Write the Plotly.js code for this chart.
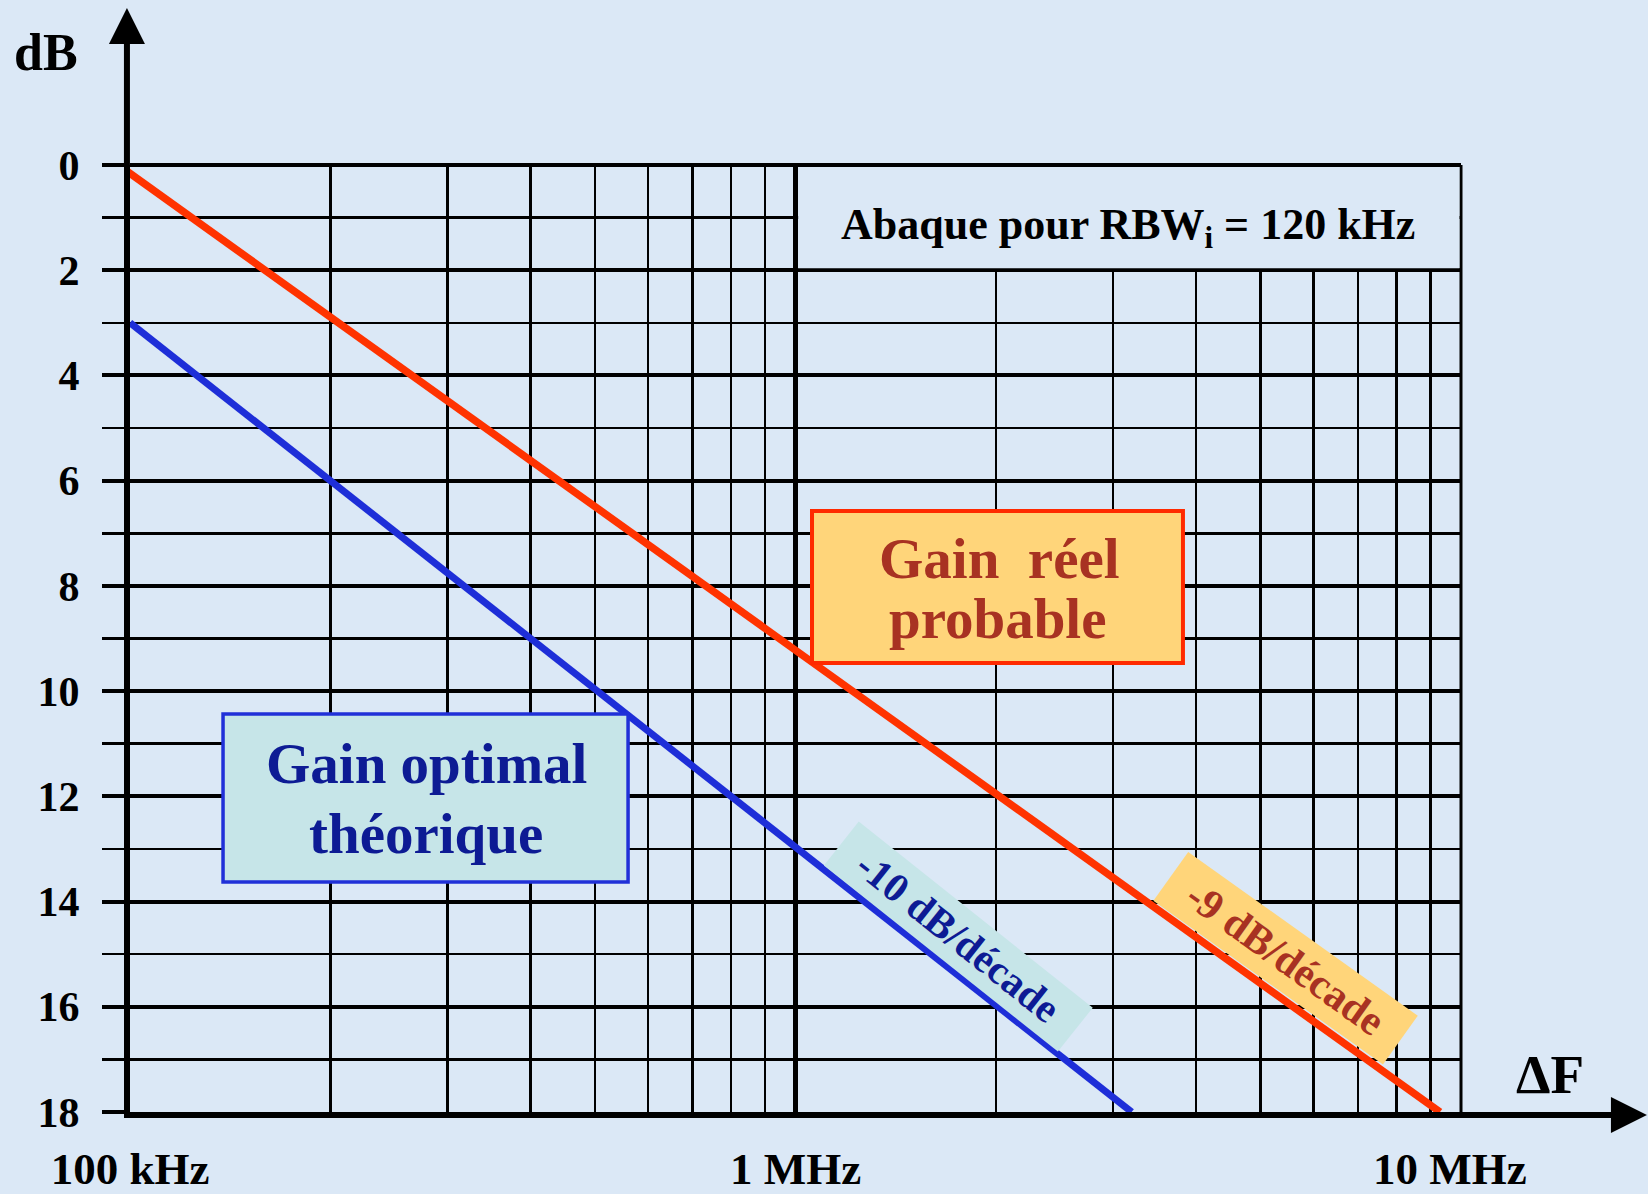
<!DOCTYPE html>
<html>
<head>
<meta charset="utf-8">
<script src="https://cdn.plot.ly/plotly-3.0.1.min.js"></script>
<style>
  html, body { margin: 0; padding: 0; background: #DBE8F6; }
  #chart { width: 1648px; height: 1194px; }
</style>
</head>
<body>
<div id="chart"></div>
<script>
// ---- data ----
const freqReel = [0.96e5, 9.3e6];      // Hz
const gainReel = [0, 18];              // dB
const freqOptimal = [1.0e5, 3.2e6];    // Hz
const gainOptimal = [3, 18];           // dB

const majorDb = [0, 2, 4, 6, 8, 10, 12, 14, 16, 18];
const minorDb = [1, 3, 5, 7, 9, 11, 13, 15, 17];
const decadeFreqs = [1e5, 1e6, 1e7];
const decadeLabels = ['100 kHz', '1 MHz', '10 MHz\u00a0\u00a0'];
const minorFreqs = [2e5, 3e5, 4e5, 5e5, 6e5, 7e5, 8e5, 9e5,
                    2e6, 3e6, 4e6, 5e6, 6e6, 7e6, 8e6, 9e6];

const FONT = 'Liberation Serif, Times New Roman, serif';
const BG = '#DBE8F6';
const RED = '#FF3300';
const BLUE = '#1E2ED8';

const traces = [
  { x: freqReel, y: gainReel, mode: 'lines', type: 'scatter',
    line: { color: RED, width: 7.5 }, hoverinfo: 'skip' },
  { x: freqOptimal, y: gainOptimal, mode: 'lines', type: 'scatter',
    line: { color: BLUE, width: 7 }, hoverinfo: 'skip' }
];

const layout = {
  width: 1648, height: 1194,
  margin: { l: 130, r: 187, t: 165, b: 82 },
  paper_bgcolor: BG, plot_bgcolor: BG,
  showlegend: false,
  xaxis: {
    type: 'log', range: [5, 7],
    tickmode: 'array', tickvals: decadeFreqs, ticktext: decadeLabels,
    tickfont: { family: FONT, size: 45, color: '#000', weight: 'bold' },
    ticks: '', ticklabelstandoff: 12,
    showgrid: true, gridcolor: '#000', gridwidth: 5,
    minor: { tickmode: 'array', tickvals: minorFreqs, showgrid: true,
             gridcolor: '#000', gridwidth: 2.5, ticks: '' },
    showline: true, linecolor: '#000', linewidth: 6,
    zeroline: false, fixedrange: true
  },
  yaxis: {
    range: [18, 0],
    tickmode: 'array', tickvals: majorDb, ticktext: majorDb.map(String),
    tickfont: { family: FONT, size: 42, color: '#000', weight: 'bold' },
    ticks: 'outside', ticklen: 22, tickwidth: 4, tickcolor: '#000',
    ticklabelstandoff: 14,
    showgrid: true, gridcolor: '#000', gridwidth: 4,
    minor: { tickmode: 'array', tickvals: minorDb, showgrid: true,
             gridcolor: '#000', gridwidth: 2.5, ticks: 'outside',
             ticklen: 22, tickwidth: 2.5, tickcolor: '#000' },
    showline: true, linecolor: '#000', linewidth: 6,
    zeroline: false, fixedrange: true
  },
  shapes: [
    // blank header area (RBW note)
    { type: 'rect', xref: 'paper', yref: 'paper', layer: 'above',
      x0: 0.502, x1: 0.9988, y0: 0.8911, y1: 0.9978,
      fillcolor: BG, line: { width: 0 } },
    // top border (0 dB)
    { type: 'line', xref: 'paper', yref: 'paper', layer: 'above',
      x0: 0, x1: 1, y0: 1, y1: 1, line: { color: '#000', width: 4 } },
    // right border (10 MHz)
    { type: 'line', xref: 'paper', yref: 'paper', layer: 'below',
      x0: 1, x1: 1, y0: 0, y1: 1, line: { color: '#000', width: 3 } },
    // "Gain réel probable" box
    { type: 'rect', xref: 'paper', yref: 'paper', layer: 'above',
      x0: 0.5124, x1: 0.7911, y0: 0.4741, y1: 0.6346,
      fillcolor: '#FFD57A', line: { color: '#FF2A00', width: 4 } },
    // "Gain optimal théorique" box
    { type: 'rect', xref: 'paper', yref: 'paper', layer: 'above',
      x0: 0.0699, x1: 0.3742, y0: 0.2429, y1: 0.4203,
      fillcolor: '#C6E5E8', line: { color: '#2030D8', width: 3.5 } }
  ],
  annotations: [
    // axis arrows
    { xref: 'paper', yref: 'paper', x: -0.0023, y: 1.1658, ax: 0, ay: 160,
      text: '', showarrow: true, arrowhead: 2, arrowwidth: 6, arrowsize: 1.2,
      arrowcolor: '#000', standoff: 0 },
    { xref: 'paper', yref: 'paper', x: 1.1397, y: -0.0032, ax: -190, ay: 0,
      text: '', showarrow: true, arrowhead: 2, arrowwidth: 6, arrowsize: 1.2,
      arrowcolor: '#000', standoff: 0 },
    // axis names
    { xref: 'paper', yref: 'paper', x: -0.0631, y: 1.1183, showarrow: false,
      text: 'dB', xanchor: 'center', yanchor: 'middle',
      font: { family: FONT, size: 52, color: '#000', weight: 'bold' } },
    { xref: 'paper', yref: 'paper', x: 1.0669, y: 0.0391, showarrow: false,
      text: '\u0394F', xanchor: 'center', yanchor: 'middle',
      font: { family: FONT, size: 55, color: '#000', weight: 'bold' } },
    // header note
    { xref: 'paper', yref: 'paper', x: 0.7498, y: 0.9340, showarrow: false,
      text: 'Abaque pour RBW<sub>i</sub> = 120 kHz', xanchor: 'center', yanchor: 'middle',
      font: { family: FONT, size: 44, color: '#000', weight: 'bold' } },
    // box texts
    { xref: 'paper', yref: 'paper', x: 0.6529, y: 0.5850, showarrow: false,
      text: 'Gain\u00a0 réel', xanchor: 'center', yanchor: 'middle',
      font: { family: FONT, size: 57, color: '#A83222', weight: 'bold' } },
    { xref: 'paper', yref: 'paper', x: 0.6521, y: 0.5216, showarrow: false,
      text: 'probable', xanchor: 'center', yanchor: 'middle',
      font: { family: FONT, size: 57, color: '#A83222', weight: 'bold' } },
    { xref: 'paper', yref: 'paper', x: 0.2224, y: 0.3675, showarrow: false,
      text: 'Gain optimal', xanchor: 'center', yanchor: 'middle',
      font: { family: FONT, size: 57, color: '#0D1B94', weight: 'bold' } },
    { xref: 'paper', yref: 'paper', x: 0.2224, y: 0.2936, showarrow: false,
      text: 'théorique', xanchor: 'center', yanchor: 'middle',
      font: { family: FONT, size: 57, color: '#0D1B94', weight: 'bold' } },
    // slope labels
    { xref: 'paper', yref: 'paper', x: 0.6221, y: 0.1848, showarrow: false,
      text: '-10 dB/décade', textangle: 38.5, xanchor: 'center', yanchor: 'middle',
      width: 294, height: 51, borderpad: 2, bgcolor: '#C6E5E8',
      font: { family: FONT, size: 41, color: '#0D1B94', weight: 'bold' } },
    { xref: 'paper', yref: 'paper', x: 0.8685, y: 0.1621, showarrow: false,
      text: '-9 dB/décade', textangle: 35.5, xanchor: 'center', yanchor: 'middle',
      width: 277, height: 55, borderpad: 2, bgcolor: '#FFD57A',
      font: { family: FONT, size: 42, color: '#A83222', weight: 'bold' } }
  ]
};

Plotly.newPlot('chart', traces, layout, { displayModeBar: false, staticPlot: true });
</script>
</body>
</html>
